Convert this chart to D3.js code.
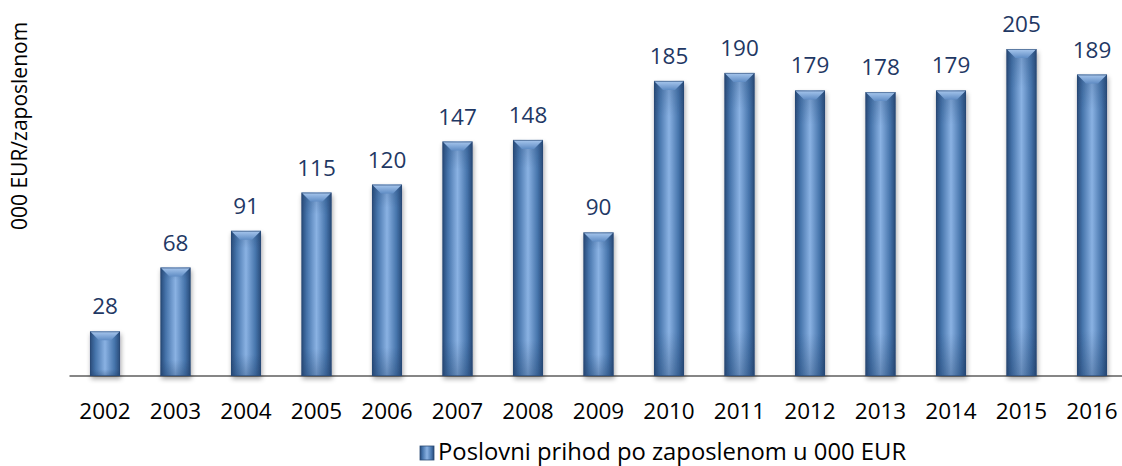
<!DOCTYPE html>
<html>
<head>
<meta charset="utf-8">
<script src="https://cdn.jsdelivr.net/npm/d3@7"></script>
<style>
  body { margin: 0; background: #fff; }
  text { font-family: "Open Sans", "Noto Sans", sans-serif; }
</style>
</head>
<body>
<div id="chart"></div>
<script>
// data
let years = ["2002","2003","2004","2005","2006","2007","2008","2009","2010","2011","2012","2013","2014","2015","2016"];
let values = [28, 68, 91, 115, 120, 147, 148, 90, 185, 190, 179, 178, 179, 205, 189];
let seriesName = "Poslovni prihod po zaposlenom u 000 EUR";
let yTitle = "000 EUR/zaposlenom";

let svgWidth = 1122, svgHeight = 466;
let baseY = 376;

let svg = d3.select("#chart").append("svg")
    .attr("width", svgWidth)
    .attr("height", svgHeight);

let defs = svg.append("defs");

// horizontal gradient for bar body
let g1 = defs.append("linearGradient").attr("id", "body").attr("x1", 0).attr("x2", 1).attr("y1", 0).attr("y2", 0);
g1.append("stop").attr("offset", "0%").attr("stop-color", "#284a78");
g1.append("stop").attr("offset", "18%").attr("stop-color", "#4674ab");
g1.append("stop").attr("offset", "50%").attr("stop-color", "#8ab2e3");
g1.append("stop").attr("offset", "82%").attr("stop-color", "#4674ab");
g1.append("stop").attr("offset", "100%").attr("stop-color", "#284a78");

// vertical overlay: a bit darker at bottom
let g2 = defs.append("linearGradient").attr("id", "vshade").attr("x1", 0).attr("x2", 0).attr("y1", 0).attr("y2", 1);
g2.append("stop").attr("offset", "0%").attr("stop-color", "#1d3c66").attr("stop-opacity", 0.25);
g2.append("stop").attr("offset", "12%").attr("stop-color", "#1d3c66").attr("stop-opacity", 0);
g2.append("stop").attr("offset", "85%").attr("stop-color", "#1d3c66").attr("stop-opacity", 0);
g2.append("stop").attr("offset", "100%").attr("stop-color", "#1d3c66").attr("stop-opacity", 0.35);

// top bevel
let g3 = defs.append("linearGradient").attr("id", "topbev").attr("x1", 0).attr("x2", 0).attr("y1", 0).attr("y2", 1);
g3.append("stop").attr("offset", "0%").attr("stop-color", "#a9c8ee");
g3.append("stop").attr("offset", "100%").attr("stop-color", "#5f8cc4");

let shadow = defs.append("filter").attr("id", "shadow")
    .attr("x", "-30%").attr("y", "-10%").attr("width", "160%").attr("height", "130%");
shadow.append("feGaussianBlur").attr("in", "SourceAlpha").attr("stdDeviation", 2.5);
shadow.append("feOffset").attr("dx", 1).attr("dy", 3).attr("result", "b");
shadow.append("feComponentTransfer").append("feFuncA").attr("type", "linear").attr("slope", 0.35);
let merge = shadow.append("feMerge");
merge.append("feMergeNode");
merge.append("feMergeNode").attr("in", "SourceGraphic");

// scales
let x = d3.scaleBand()
    .domain(years)
    .range([69.75, 1127.25])
    .paddingInner(0.574)
    .paddingOuter(0.287);

let y = d3.scaleLinear()
    .domain([0, 205])
    .range([baseY, 49]);

// axis
let xAxis = svg.append("g")
    .attr("transform", `translate(0,${baseY})`)
    .call(d3.axisBottom(x).tickSize(0).tickPadding(27));
xAxis.select(".domain").attr("stroke", "#868686").attr("stroke-width", 2)
    .attr("d", `M69.5,0H1122`);
xAxis.selectAll("text").attr("font-size", "22.5px").attr("fill", "#000");

// bars
let bars = svg.selectAll(".bar")
    .data(values)
    .enter()
    .append("g")
    .attr("class", "bar")
    .attr("filter", "url(#shadow)");

bars.append("rect")
    .attr("x", (d, i) => x(years[i]))
    .attr("y", d => y(d))
    .attr("width", x.bandwidth())
    .attr("height", d => baseY - y(d))
    .attr("fill", "url(#body)");

bars.append("rect")
    .attr("x", (d, i) => x(years[i]))
    .attr("y", d => y(d))
    .attr("width", x.bandwidth())
    .attr("height", d => baseY - y(d))
    .attr("fill", "url(#vshade)");

// top bevel trapezoid
bars.append("path")
    .attr("d", (d, i) => {
        let x0 = x(years[i]), w = x.bandwidth(), t = y(d), b = 9;
        return `M${x0},${t}L${x0 + w},${t}L${x0 + w - b},${t + b}L${x0 + b},${t + b}Z`;
    })
    .attr("fill", "url(#topbev)");

bars.append("rect")
    .attr("x", (d, i) => x(years[i]) + 0.5)
    .attr("y", d => y(d) + 0.5)
    .attr("width", x.bandwidth() - 1)
    .attr("height", d => baseY - y(d) - 1)
    .attr("fill", "none")
    .attr("stroke", "#2a4a74")
    .attr("stroke-opacity", 0.6);

// value labels
svg.selectAll(".val")
    .data(values)
    .enter()
    .append("text")
    .attr("class", "val")
    .attr("x", (d, i) => x(years[i]) + x.bandwidth() / 2)
    .attr("y", d => y(d) - 17)
    .attr("text-anchor", "middle")
    .attr("font-size", "22.5px")
    .attr("fill", "#1f3864")
    .text(d => d);

// y title
svg.append("text")
    .attr("transform", "translate(27,126) rotate(-90)")
    .attr("text-anchor", "middle")
    .attr("font-size", "21px")
    .attr("fill", "#000")
    .text(yTitle);

// legend
let legend = svg.append("g").attr("transform", "translate(420,446)");
legend.append("rect")
    .attr("width", 14).attr("height", 14)
    .attr("fill", "url(#body)")
    .attr("stroke", "#2a4a74").attr("stroke-width", 0.8);
legend.append("text")
    .attr("x", 18).attr("y", 14)
    .attr("font-size", "23.8px")
    .attr("fill", "#000")
    .text(seriesName);
</script>
</body>
</html>
